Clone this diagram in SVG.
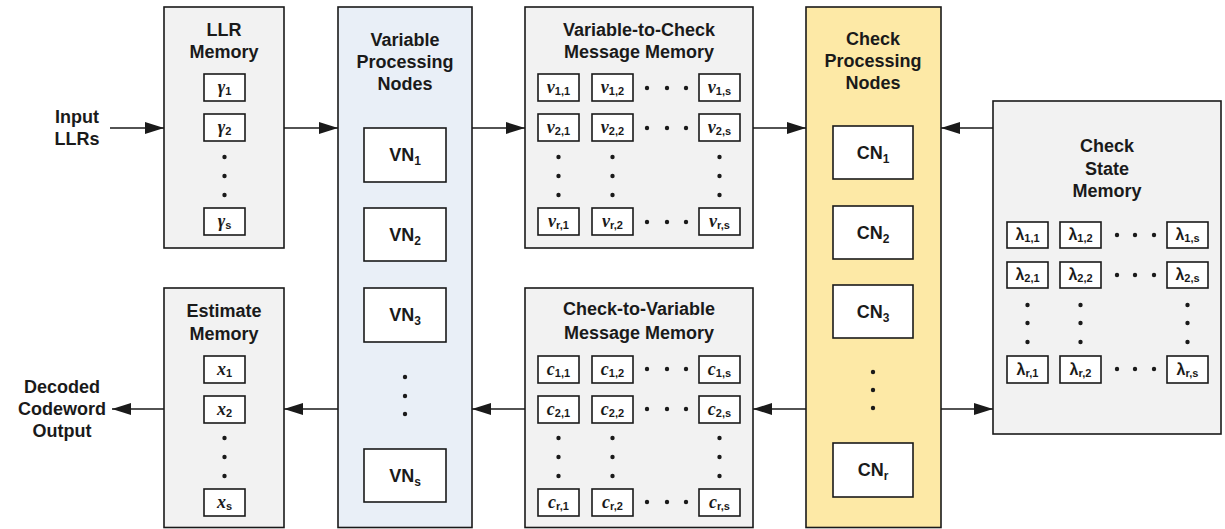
<svg xmlns="http://www.w3.org/2000/svg" width="1225" height="529" viewBox="0 0 1225 529">
<defs>
<style>
.mem{fill:#f2f2f2;stroke:#1a1a1a;stroke-width:1.6}
.vpn{fill:#e9eff7;stroke:#1a1a1a;stroke-width:1.6}
.cpn{fill:#fde9a6;stroke:#1a1a1a;stroke-width:1.6}
.cell{fill:#fff;stroke:#1a1a1a;stroke-width:1.6}
.node{fill:#fff;stroke:#1a1a1a;stroke-width:1.6}
.t{font-family:"Liberation Sans",Arial,sans-serif;font-weight:bold;font-size:18px;fill:#1a1a1a;text-anchor:middle}
.n{font-family:"Liberation Sans",Arial,sans-serif;font-weight:bold;font-size:18px;fill:#1a1a1a;text-anchor:middle}
.ns{font-size:12px}
.c{font-family:"Liberation Serif","Times New Roman",serif;font-style:italic;font-weight:bold;font-size:18px;fill:#1a1a1a;text-anchor:middle}
.l{font-family:"Liberation Sans",Arial,sans-serif;font-weight:bold;font-size:16px;fill:#1a1a1a;text-anchor:middle}
.s{font-family:"Liberation Sans",Arial,sans-serif;font-style:normal;font-weight:bold;font-size:11px}
.d{fill:#1a1a1a}
.conn line{stroke:#1a1a1a;stroke-width:1.6;marker-end:url(#ah)}
</style>
<marker id="ah" markerUnits="userSpaceOnUse" markerWidth="19" markerHeight="12" refX="19" refY="6" orient="auto">
<path d="M0,0 L19,6 L0,12 z" fill="#1a1a1a"/>
</marker>
</defs>
<rect width="1225" height="529" fill="#fff"/>

<g id="connectors" class="conn">
<line x1="110" y1="128" x2="164" y2="128"/>
<line x1="284" y1="128" x2="338" y2="128"/>
<line x1="472" y1="128" x2="525" y2="128"/>
<line x1="753" y1="128" x2="806" y2="128"/>
<line x1="993" y1="128" x2="941" y2="128"/>
<line x1="941" y1="409" x2="993" y2="409"/>
<line x1="806" y1="409" x2="753" y2="409"/>
<line x1="525" y1="409" x2="472" y2="409"/>
<line x1="338" y1="409" x2="284" y2="409"/>
<line x1="164" y1="409" x2="112" y2="409"/>
</g>

<g id="input-llrs">
<text class="t" x="77" y="123">Input</text>
<text class="t" x="77" y="145">LLRs</text>
</g>

<g id="decoded-output">
<text class="t" x="62" y="393">Decoded</text>
<text class="t" x="62" y="415">Codeword</text>
<text class="t" x="62" y="437">Output</text>
</g>

<g id="llr-memory">
<rect class="mem" x="164" y="7" width="120" height="241"/>
<text class="t" x="224" y="36">LLR</text>
<text class="t" x="224" y="58">Memory</text>
<rect class="cell" x="204" y="74" width="41" height="27"/>
<text class="c" x="224.5" y="93">γ<tspan class="s" dy="2">1</tspan></text>
<rect class="cell" x="204" y="114" width="41" height="27"/>
<text class="c" x="224.5" y="133">γ<tspan class="s" dy="2">2</tspan></text>
<circle class="d" cx="224.5" cy="157" r="2.2"/>
<circle class="d" cx="224.5" cy="176" r="2.2"/>
<circle class="d" cx="224.5" cy="195" r="2.2"/>
<rect class="cell" x="204" y="208" width="41" height="27"/>
<text class="c" x="224.5" y="227">γ<tspan class="s" dy="2">s</tspan></text>
</g>

<g id="estimate-memory">
<rect class="mem" x="164" y="288" width="120" height="239.5"/>
<text class="t" x="224" y="317">Estimate</text>
<text class="t" x="224" y="340">Memory</text>
<rect class="cell" x="204" y="356" width="41" height="27"/>
<text class="c" x="224.5" y="375">x<tspan class="s" dy="2">1</tspan></text>
<rect class="cell" x="204" y="396" width="41" height="27"/>
<text class="c" x="224.5" y="415">x<tspan class="s" dy="2">2</tspan></text>
<circle class="d" cx="224.5" cy="438" r="2.2"/>
<circle class="d" cx="224.5" cy="457" r="2.2"/>
<circle class="d" cx="224.5" cy="476" r="2.2"/>
<rect class="cell" x="204" y="489" width="41" height="27"/>
<text class="c" x="224.5" y="508">x<tspan class="s" dy="2">s</tspan></text>
</g>

<g id="variable-processing-nodes">
<rect class="vpn" x="338" y="7" width="134" height="520.5"/>
<text class="t" x="405" y="46">Variable</text>
<text class="t" x="405" y="68">Processing</text>
<text class="t" x="405" y="90">Nodes</text>
<rect class="node" x="364" y="128" width="82" height="54"/>
<text class="n" x="405" y="161">VN<tspan class="ns" dy="4">1</tspan></text>
<rect class="node" x="364" y="208" width="82" height="53"/>
<text class="n" x="405" y="241">VN<tspan class="ns" dy="4">2</tspan></text>
<rect class="node" x="364" y="288" width="82" height="54"/>
<text class="n" x="405" y="321">VN<tspan class="ns" dy="4">3</tspan></text>
<circle class="d" cx="405" cy="377" r="2.2"/>
<circle class="d" cx="405" cy="396" r="2.2"/>
<circle class="d" cx="405" cy="414" r="2.2"/>
<rect class="node" x="364" y="449" width="82" height="53"/>
<text class="n" x="405" y="482">VN<tspan class="ns" dy="4">s</tspan></text>
</g>

<g id="v2c-memory">
<rect class="mem" x="525" y="7" width="228" height="241"/>
<text class="t" x="639" y="36">Variable-to-Check</text>
<text class="t" x="639" y="58">Message Memory</text>
<rect class="cell" x="538" y="74" width="41" height="27"/>
<text class="c" x="558.5" y="93">ν<tspan class="s" dy="2">1,1</tspan></text>
<rect class="cell" x="592" y="74" width="41" height="27"/>
<text class="c" x="612.5" y="93">ν<tspan class="s" dy="2">1,2</tspan></text>
<circle class="d" cx="647" cy="88" r="2.2"/>
<circle class="d" cx="667" cy="88" r="2.2"/>
<circle class="d" cx="686" cy="88" r="2.2"/>
<rect class="cell" x="699" y="74" width="41" height="27"/>
<text class="c" x="719.5" y="93">ν<tspan class="s" dy="2">1,s</tspan></text>
<rect class="cell" x="538" y="114" width="41" height="27"/>
<text class="c" x="558.5" y="133">ν<tspan class="s" dy="2">2,1</tspan></text>
<rect class="cell" x="592" y="114" width="41" height="27"/>
<text class="c" x="612.5" y="133">ν<tspan class="s" dy="2">2,2</tspan></text>
<circle class="d" cx="647" cy="128" r="2.2"/>
<circle class="d" cx="667" cy="128" r="2.2"/>
<circle class="d" cx="686" cy="128" r="2.2"/>
<rect class="cell" x="699" y="114" width="41" height="27"/>
<text class="c" x="719.5" y="133">ν<tspan class="s" dy="2">2,s</tspan></text>
<circle class="d" cx="558.5" cy="157" r="2.2"/>
<circle class="d" cx="558.5" cy="176" r="2.2"/>
<circle class="d" cx="558.5" cy="195" r="2.2"/>
<circle class="d" cx="612.5" cy="157" r="2.2"/>
<circle class="d" cx="612.5" cy="176" r="2.2"/>
<circle class="d" cx="612.5" cy="195" r="2.2"/>
<circle class="d" cx="719.5" cy="157" r="2.2"/>
<circle class="d" cx="719.5" cy="176" r="2.2"/>
<circle class="d" cx="719.5" cy="195" r="2.2"/>
<rect class="cell" x="538" y="208" width="41" height="27"/>
<text class="c" x="558.5" y="227">ν<tspan class="s" dy="2">r,1</tspan></text>
<rect class="cell" x="592" y="208" width="41" height="27"/>
<text class="c" x="612.5" y="227">ν<tspan class="s" dy="2">r,2</tspan></text>
<circle class="d" cx="647" cy="222" r="2.2"/>
<circle class="d" cx="667" cy="222" r="2.2"/>
<circle class="d" cx="686" cy="222" r="2.2"/>
<rect class="cell" x="699" y="208" width="41" height="27"/>
<text class="c" x="719.5" y="227">ν<tspan class="s" dy="2">r,s</tspan></text>
</g>

<g id="c2v-memory">
<rect class="mem" x="525" y="288" width="228" height="239.5"/>
<text class="t" x="639" y="315">Check-to-Variable</text>
<text class="t" x="639" y="339">Message Memory</text>
<rect class="cell" x="538" y="356" width="41" height="27"/>
<text class="c" x="558.5" y="375">c<tspan class="s" dy="2">1,1</tspan></text>
<rect class="cell" x="592" y="356" width="41" height="27"/>
<text class="c" x="612.5" y="375">c<tspan class="s" dy="2">1,2</tspan></text>
<circle class="d" cx="647" cy="369" r="2.2"/>
<circle class="d" cx="667" cy="369" r="2.2"/>
<circle class="d" cx="686" cy="369" r="2.2"/>
<rect class="cell" x="699" y="356" width="41" height="27"/>
<text class="c" x="719.5" y="375">c<tspan class="s" dy="2">1,s</tspan></text>
<rect class="cell" x="538" y="396" width="41" height="27"/>
<text class="c" x="558.5" y="415">c<tspan class="s" dy="2">2,1</tspan></text>
<rect class="cell" x="592" y="396" width="41" height="27"/>
<text class="c" x="612.5" y="415">c<tspan class="s" dy="2">2,2</tspan></text>
<circle class="d" cx="647" cy="409" r="2.2"/>
<circle class="d" cx="667" cy="409" r="2.2"/>
<circle class="d" cx="686" cy="409" r="2.2"/>
<rect class="cell" x="699" y="396" width="41" height="27"/>
<text class="c" x="719.5" y="415">c<tspan class="s" dy="2">2,s</tspan></text>
<circle class="d" cx="558.5" cy="438" r="2.2"/>
<circle class="d" cx="558.5" cy="457" r="2.2"/>
<circle class="d" cx="558.5" cy="476" r="2.2"/>
<circle class="d" cx="612.5" cy="438" r="2.2"/>
<circle class="d" cx="612.5" cy="457" r="2.2"/>
<circle class="d" cx="612.5" cy="476" r="2.2"/>
<circle class="d" cx="719.5" cy="438" r="2.2"/>
<circle class="d" cx="719.5" cy="457" r="2.2"/>
<circle class="d" cx="719.5" cy="476" r="2.2"/>
<rect class="cell" x="538" y="489" width="41" height="27"/>
<text class="c" x="558.5" y="508">c<tspan class="s" dy="2">r,1</tspan></text>
<rect class="cell" x="592" y="489" width="41" height="27"/>
<text class="c" x="612.5" y="508">c<tspan class="s" dy="2">r,2</tspan></text>
<circle class="d" cx="647" cy="502" r="2.2"/>
<circle class="d" cx="667" cy="502" r="2.2"/>
<circle class="d" cx="686" cy="502" r="2.2"/>
<rect class="cell" x="699" y="489" width="41" height="27"/>
<text class="c" x="719.5" y="508">c<tspan class="s" dy="2">r,s</tspan></text>
</g>

<g id="check-processing-nodes">
<rect class="cpn" x="806" y="7" width="135" height="520.5"/>
<text class="t" x="873" y="45">Check</text>
<text class="t" x="873" y="67">Processing</text>
<text class="t" x="873" y="89">Nodes</text>
<rect class="node" x="833" y="126" width="80" height="53"/>
<text class="n" x="873" y="159">CN<tspan class="ns" dy="4">1</tspan></text>
<rect class="node" x="833" y="206" width="80" height="53"/>
<text class="n" x="873" y="239">CN<tspan class="ns" dy="4">2</tspan></text>
<rect class="node" x="833" y="285" width="80" height="53"/>
<text class="n" x="873" y="318">CN<tspan class="ns" dy="4">3</tspan></text>
<circle class="d" cx="873" cy="372" r="2.2"/>
<circle class="d" cx="873" cy="390" r="2.2"/>
<circle class="d" cx="873" cy="408" r="2.2"/>
<rect class="node" x="833" y="443" width="80" height="54"/>
<text class="n" x="873" y="476">CN<tspan class="ns" dy="4">r</tspan></text>
</g>

<g id="check-state-memory">
<rect class="mem" x="993" y="101" width="228" height="333"/>
<text class="t" x="1107" y="152">Check</text>
<text class="t" x="1107" y="175">State</text>
<text class="t" x="1107" y="197">Memory</text>
<rect class="cell" x="1007" y="222" width="41" height="26"/>
<text class="l" x="1027.5" y="240">λ<tspan class="s" dy="2">1,1</tspan></text>
<rect class="cell" x="1060" y="222" width="41" height="26"/>
<text class="l" x="1080.5" y="240">λ<tspan class="s" dy="2">1,2</tspan></text>
<circle class="d" cx="1117" cy="235" r="2.2"/>
<circle class="d" cx="1135" cy="235" r="2.2"/>
<circle class="d" cx="1154" cy="235" r="2.2"/>
<rect class="cell" x="1167" y="222" width="41" height="26"/>
<text class="l" x="1187.5" y="240">λ<tspan class="s" dy="2">1,s</tspan></text>
<rect class="cell" x="1007" y="262" width="41" height="26"/>
<text class="l" x="1027.5" y="280">λ<tspan class="s" dy="2">2,1</tspan></text>
<rect class="cell" x="1060" y="262" width="41" height="26"/>
<text class="l" x="1080.5" y="280">λ<tspan class="s" dy="2">2,2</tspan></text>
<circle class="d" cx="1117" cy="275" r="2.2"/>
<circle class="d" cx="1135" cy="275" r="2.2"/>
<circle class="d" cx="1154" cy="275" r="2.2"/>
<rect class="cell" x="1167" y="262" width="41" height="26"/>
<text class="l" x="1187.5" y="280">λ<tspan class="s" dy="2">2,s</tspan></text>
<circle class="d" cx="1027.5" cy="305" r="2.2"/>
<circle class="d" cx="1027.5" cy="323" r="2.2"/>
<circle class="d" cx="1027.5" cy="342" r="2.2"/>
<circle class="d" cx="1080.5" cy="305" r="2.2"/>
<circle class="d" cx="1080.5" cy="323" r="2.2"/>
<circle class="d" cx="1080.5" cy="342" r="2.2"/>
<circle class="d" cx="1187.5" cy="305" r="2.2"/>
<circle class="d" cx="1187.5" cy="323" r="2.2"/>
<circle class="d" cx="1187.5" cy="342" r="2.2"/>
<rect class="cell" x="1007" y="356" width="41" height="27"/>
<text class="l" x="1027.5" y="375">λ<tspan class="s" dy="2">r,1</tspan></text>
<rect class="cell" x="1060" y="356" width="41" height="27"/>
<text class="l" x="1080.5" y="375">λ<tspan class="s" dy="2">r,2</tspan></text>
<circle class="d" cx="1117" cy="369" r="2.2"/>
<circle class="d" cx="1135" cy="369" r="2.2"/>
<circle class="d" cx="1154" cy="369" r="2.2"/>
<rect class="cell" x="1167" y="356" width="41" height="27"/>
<text class="l" x="1187.5" y="375">λ<tspan class="s" dy="2">r,s</tspan></text>
</g>
</svg>
